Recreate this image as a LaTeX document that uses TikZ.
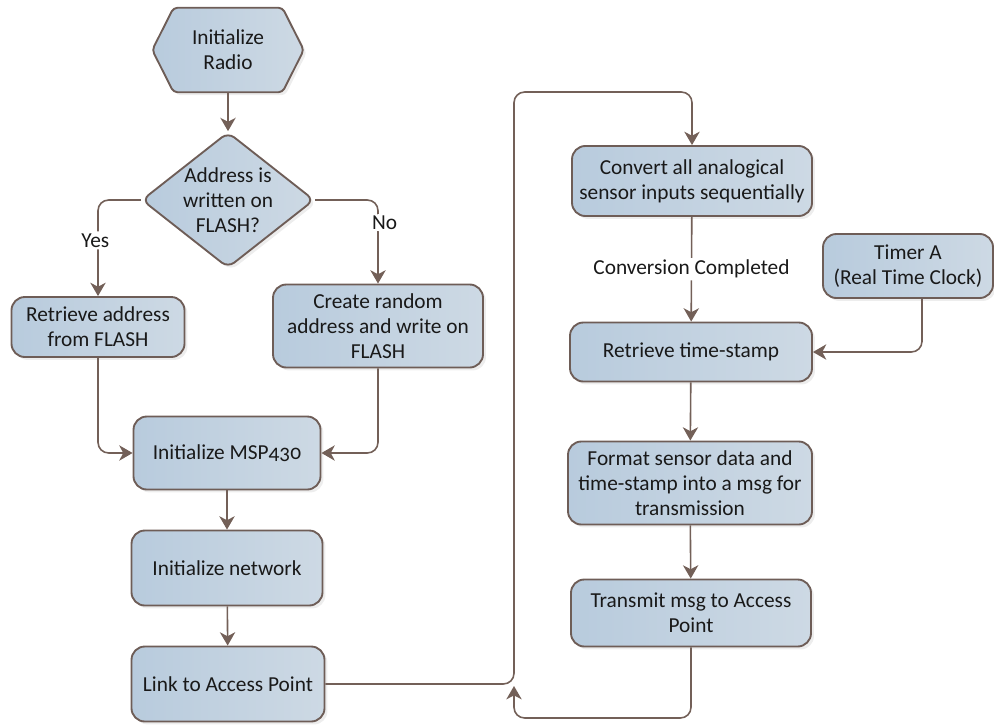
\documentclass[tikz,border=0pt]{standalone}
\usepackage{fontspec}
\setmainfont{Carlito}[Numbers=OldStyle]
\usetikzlibrary{shapes.geometric,shadows,arrows.meta,calc}
\pgfdeclarelayer{bg}
\pgfsetlayers{bg,main}
\definecolor{boxL}{RGB}{184,203,221}
\definecolor{boxR}{RGB}{205,217,228}
\definecolor{border}{RGB}{110,93,87}
\definecolor{wire}{RGB}{115,96,88}
\definecolor{txt}{RGB}{25,25,25}
\tikzset{
  sz/.style 2 args={minimum width=#1*0.75pt, minimum height=#2*0.75pt},
  boxlook/.style={draw=border, line width=1.4pt, left color=boxL, right color=boxR,
    drop shadow={shadow xshift=2.2pt, shadow yshift=-2.2pt, fill=black!14}},
  base/.style={boxlook, text=txt, align=center, inner sep=0pt,
    font=\fontsize{16}{18.75}\selectfont},
  procbox/.style={base, rectangle, rounded corners=10pt},
  decbox/.style={base, diamond, rounded corners=6pt, shape aspect=1.27},
  hexbox/.style={text=txt, align=center, inner sep=0pt, rectangle,
    font=\fontsize{16}{18.75}\selectfont},
  wireline/.style={draw=wire, line width=1.2pt, rounded corners=8pt,
    -{Stealth[length=10pt,width=11.5pt,inset=3pt]}},
  lbl/.style={fill=white, text=txt, inner sep=1.5pt, font=\fontsize{16}{18.75}\selectfont}
}
\begin{document}
\begin{tikzpicture}[x=0.75pt,y=-0.75pt]
\useasboundingbox (0,0) rectangle (994,724);
\node[hexbox, sz={151}{84}] (radio) at (228,50) {Initialize\\Radio};
\begin{pgfonlayer}{bg}
\path[boxlook, rounded corners=3pt] (radio.west) -- ([xshift=16pt]radio.north west)
  -- ([xshift=-16pt]radio.north east) -- (radio.east)
  -- ([xshift=-16pt]radio.south east) -- ([xshift=16pt]radio.south west) -- cycle;
\end{pgfonlayer}
\node[decbox, sz={171}{135}] (dec) at (228,200) {Address is\\written on\\FLASH?};
\node[procbox, sz={173}{60}] (retr) at (98,327) {Retrieve address\\from FLASH};
\node[procbox, sz={210}{83}] (create) at (378,326) {Create random\\address and write on\\FLASH};
\node[procbox, sz={187}{73}] (msp) at (227,453) {Initialize MSP430};
\node[procbox, sz={191}{75}] (net) at (227,568) {Initialize network};
\node[procbox, sz={193}{75}] (link) at (228,684) {Link to Access Point};
\node[procbox, sz={240}{70}] (conv) at (692,181) {Convert all analogical\\sensor inputs sequentially};
\node[procbox, sz={170}{64}] (timer) at (908,266) {Timer A\\(Real Time Clock)};
\node[procbox, sz={242}{59}] (ts) at (691,352) {Retrieve time-stamp};
\node[procbox, sz={244}{83}] (fmt) at (690,483) {Format sensor data and\\time-stamp into a msg for\\transmission};
\node[procbox, sz={240}{67}] (tx) at (691,613) {Transmit msg to Access\\Point};

\coordinate (loopTop) at (514,92);
\coordinate (loopBot) at (514,718);
\coordinate (loopEnd) at (514,686);

\draw[wireline] (radio) -- (dec);
\draw[wireline] (dec.west) -| (retr.north) node[lbl, pos=0.71, xshift=-2pt] {Yes};
\draw[wireline] (dec.east) -| (create.north) node[lbl, pos=0.635, xshift=5pt] {No};
\draw[wireline] (retr.south) |- (msp.west);
\draw[wireline] (create.south) |- (msp.east);
\draw[wireline] (msp) -- (net);
\draw[wireline] (net) -- (link);
\draw[wireline] (link.east) -| (loopTop) -| (conv.north);
\draw[wireline] (conv) -- (ts) node[lbl, midway] {Conversion Completed};
\draw[wireline] ([xshift=10.5pt]timer.south) |- (ts.east);
\draw[wireline] (ts) -- (fmt);
\draw[wireline] (fmt) -- (tx);
\draw[wireline] (tx.south) |- (loopBot) -- (loopEnd);
\end{tikzpicture}
\end{document}
